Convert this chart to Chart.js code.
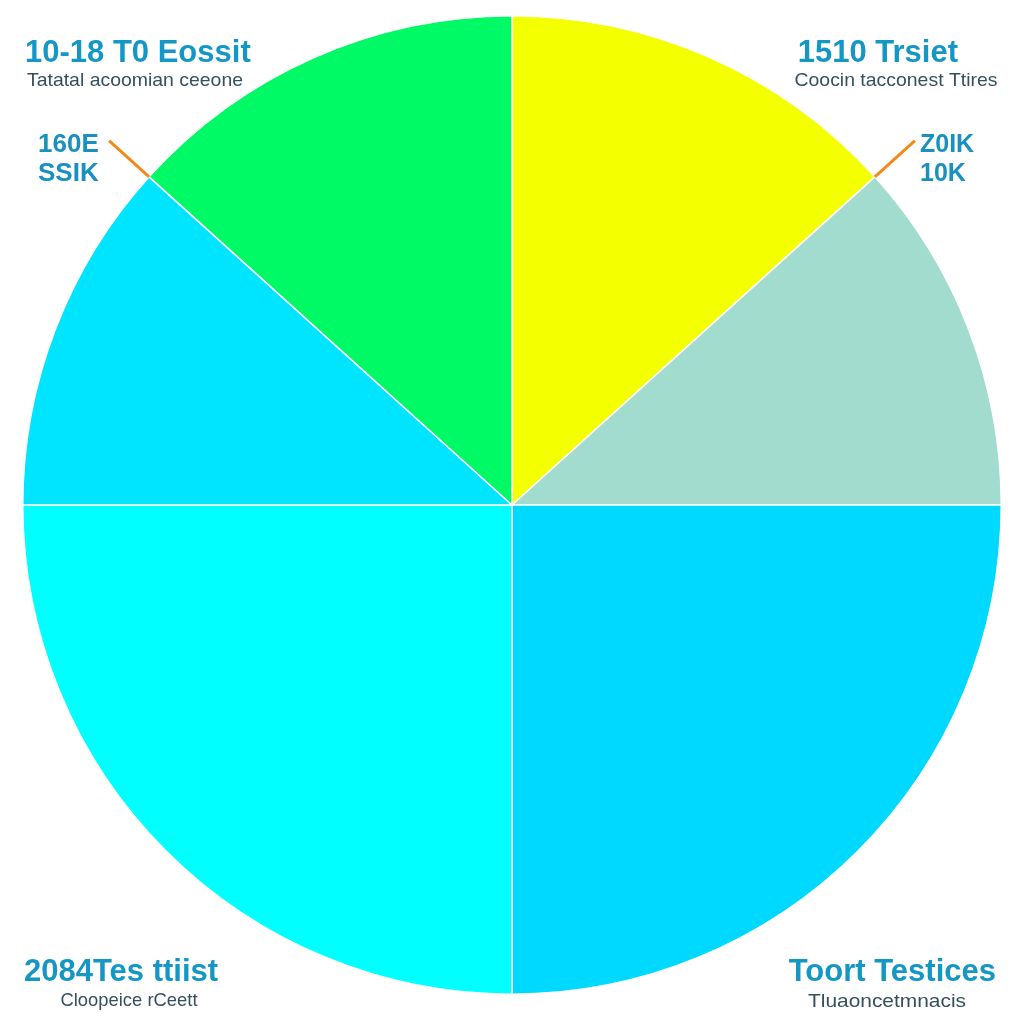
<!DOCTYPE html>
<html>
<head>
<meta charset="utf-8">
<script src="https://cdn.jsdelivr.net/npm/chart.js@4/dist/chart.umd.min.js"></script>
<style>
html,body{margin:0;padding:0;background:#fff;}
#wrap{width:1024px;height:1024px;position:relative;}
</style>
</head>
<body>
<div id="wrap"><canvas id="c" width="1024" height="1024"></canvas></div>
<script>
// ---- data ----
const categories = ["1510 Trsiet", "Z0IK 10K", "Toort Testices", "2084Tes ttiist", "160E SSIK", "10-18 T0 Eossit"];
const values = [13.3, 11.7, 25.0, 25.0, 11.7, 13.3];
const colors = ["#f4ff00", "#a2dccf", "#00d9ff", "#00ffff", "#00e5ff", "#00fa66"];
const titleTexts = ["10-18 T0 Eossit", "1510 Trsiet", "2084Tes ttiist", "Toort Testices"];
const subTexts = ["Tatatal acoomian ceeone", "Coocin tacconest Ttires", "Cloopeice rCeett", "Tluaoncetmnacis"];
const sideTexts = [["160E", "SSIK"], ["Z0IK", "10K"]];

// ---- layout (positions / styles) ----
const titlePos = [
  {x:25, y:62, align:"left"}, {x:958, y:62, align:"right"},
  {x:24, y:981, align:"left"}, {x:996, y:981, align:"right"}
];
const subPos = [
  {x:135, y:86, w:216}, {x:896, y:86, w:203},
  {x:129, y:1006, w:137}, {x:887, y:1007, w:158}
];
const sidePos = [
  {x:38, y:152, size:26, slice:5, side:"start"},
  {x:920, y:152, size:25, slice:0, side:"end"}
];

const labelPlugin = {
  id:'labels',
  afterDraw(chart){
    const ctx = chart.ctx;
    ctx.save();
    ctx.textBaseline = 'alphabetic';
    ctx.fillStyle = '#1597c6';
    ctx.font = 'bold 31px "Liberation Sans", Arial, sans-serif';
    titleTexts.forEach((t,i)=>{const p=titlePos[i]; ctx.textAlign=p.align; ctx.fillText(t,p.x,p.y);});
    ctx.fillStyle = '#34505e';
    ctx.font = '19px "Liberation Sans", Arial, sans-serif';
    ctx.textAlign='center';
    subTexts.forEach((t,i)=>{
      const p = subPos[i];
      const mw = ctx.measureText(t).width;
      const s = p.w/mw;
      ctx.save();
      ctx.translate(p.x, p.y);
      ctx.scale(s, 1);
      ctx.fillText(t, 0, 0);
      ctx.restore();
    });
    const meta = chart.getDatasetMeta(0);
    sideTexts.forEach((lines,i)=>{
      const p = sidePos[i];
      const arc = meta.data[p.slice];
      const a = p.side==="start" ? arc.startAngle : arc.endAngle;
      const px = arc.x + Math.cos(a)*arc.outerRadius;
      const py = arc.y + Math.sin(a)*arc.outerRadius;
      const qx = px + Math.cos(a)*54;
      const qy = py + Math.sin(a)*54;
      ctx.strokeStyle = '#f08a1c';
      ctx.lineWidth = 3;
      ctx.beginPath(); ctx.moveTo(px,py); ctx.lineTo(qx,qy); ctx.stroke();
      ctx.fillStyle = '#1890c0';
      ctx.font = '600 '+p.size+'px "Liberation Sans", Arial, sans-serif';
      ctx.textAlign = 'left';
      ctx.fillText(lines[0], p.x, p.y);
      ctx.fillText(lines[1], p.x, p.y+29);
    });
    ctx.restore();
  }
};

new Chart(document.getElementById('c'), {
  type:'pie',
  data:{labels:categories, datasets:[{data:values, backgroundColor:colors, borderColor:'#ffffff', borderWidth:1.5}]},
  options:{
    responsive:false, animation:false,
    layout:{padding:{left:22,right:22,top:13,bottom:27}},
    plugins:{legend:{display:false}, tooltip:{enabled:false}}
  },
  plugins:[labelPlugin]
});
</script>
</body>
</html>
